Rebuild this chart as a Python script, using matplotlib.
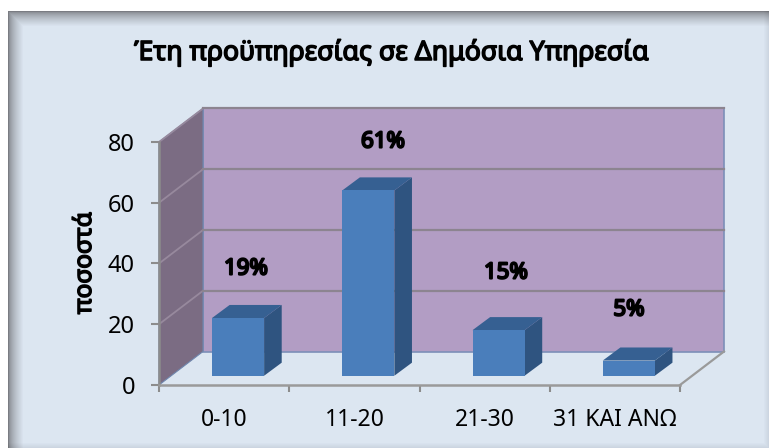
#!/usr/bin/env python3
import numpy as np
import matplotlib
matplotlib.use("Agg")
import matplotlib.pyplot as plt
import matplotlib.patheffects as pe
from matplotlib.patches import Polygon

W, H = 769, 448

categories = ["0-10", "11-20", "21-30", "31 ΚΑΙ ΑΝΩ"]
values = [19, 61, 15, 5]
value_labels = ["19%", "61%", "15%", "5%"]
y_ticks = [0, 20, 40, 60, 80]
title = "Έτη προϋπηρεσίας σε Δημόσια Υπηρεσία"
y_title = "ποσοστά"

plt.rcParams["font.family"] = ["Noto Sans", "DejaVu Sans"]

# the installed weight renders light, so thicken bold text with a stroke
BOLD = [pe.withStroke(linewidth=1.1, foreground="black")]
BOLD_LABEL = [pe.withStroke(linewidth=1.5, foreground="black")]

fig = plt.figure(figsize=(W / 100, H / 100), dpi=100, facecolor="white")

# panel background with a soft inner shadow, strongest along top and left
bg = fig.add_axes([0, 0, 1, 1], zorder=0)
bg.set_axis_off()
L, T, R, B = 8, 11, 769, 448
xx, yy = np.meshgrid(np.arange(L, R), np.arange(T, B))
dist = np.minimum(xx - L, yy - T)
shade = np.clip(dist / 15.0, 0, 1) ** 0.6
base = np.array([0.863, 0.902, 0.949])
edge = np.array([0.48, 0.49, 0.51])
img = edge + (base - edge) * shade[..., None]
faint = np.clip(np.minimum(R - 1 - xx, B - 1 - yy) / 5.0, 0, 1)
img = img * (0.93 + 0.07 * faint[..., None])
bg.imshow(img, extent=(L, R, B, T), interpolation="bilinear", aspect="auto")
bg.set_xlim(0, W)
bg.set_ylim(H, 0)

# front plane of the 3D box: 159..680 px wide, 142..385 px tall
ax = fig.add_axes([159 / W, 1 - 385 / H, (680 - 159) / W, (385 - 142) / H], zorder=1)
ax.patch.set_alpha(0)
ax.set_xlim(0, len(categories))
ax.set_ylim(0, y_ticks[-1])

# depth of the box in axis units
DX = 44 / 130.25
DY = 33.5 / 3.0375


def proj(x, y, d):
    # d runs 0 (front) to 1 (back wall)
    return (x + DX * d, y + DY * d)


def face(pts, color, z, edgecolor="none", lw=0):
    ax.add_patch(Polygon(pts, closed=True, facecolor=color, edgecolor=edgecolor,
                         linewidth=lw, zorder=z, clip_on=False))


n = len(categories)
top = y_ticks[-1]
grid = "#8c8490"

# back wall and side wall
face([proj(0, 0, 1), proj(n, 0, 1), proj(n, top, 1), proj(0, top, 1)], "#b29dc4", 1,
     edgecolor="#7c8fb8", lw=1.2)
face([proj(0, 0, 0), proj(0, 0, 1), proj(0, top, 1), proj(0, top, 0)], "#7b6c83", 1,
     edgecolor="#6f86ad", lw=0.8)

# gridlines wrap around both walls
for t in y_ticks[1:]:
    a, b, c = proj(0, t, 0), proj(0, t, 1), proj(n, t, 1)
    ax.plot([a[0], b[0]], [a[1], b[1]], color="#97899d", lw=1.3, zorder=2, clip_on=False)
    ax.plot([b[0], c[0]], [b[1], c[1]], color=grid, lw=1.6, zorder=2, clip_on=False)

# floor edge on the right
a, b = proj(n, 0, 0), proj(n, 0, 1)
ax.plot([a[0], b[0]], [a[1], b[1]], color="#9a9a9a", lw=1.6, zorder=2, clip_on=False)

# bars stand part of the way back on the floor
bar_w = 0.40
bar_off = 0.407
base_y = 3.05
ox, oy = DX * 0.40, DY * 0.39
for i, v in enumerate(values):
    x0 = i + bar_off
    x1 = x0 + bar_w
    # side, top, front
    face([(x1, base_y), (x1 + ox, base_y + oy), (x1 + ox, v + base_y + oy), (x1, v + base_y)],
         "#2f5480", 4)
    face([(x0, v + base_y), (x1, v + base_y), (x1 + ox, v + base_y + oy), (x0 + ox, v + base_y + oy)],
         "#366092", 4)
    face([(x0, base_y), (x1, base_y), (x1, v + base_y), (x0, v + base_y)], "#4a7ebb", 5)

# value labels float above the bars at hand-placed heights
label_px = [(246, 269), (383, 142), (506, 273), (629, 310)]
for (px, py), s in zip(label_px, value_labels):
    fig.text(px / W, 1 - py / H, s, ha="center", va="center", fontsize=16,
             color="black", zorder=6, path_effects=BOLD_LABEL)

ax.set_xticks(np.arange(n + 1))
ax.set_xticklabels([])
ax.set_yticks(y_ticks)
ax.tick_params(axis="x", length=5.2, width=1.5, color="#8c8c8c", direction="out")
ax.tick_params(axis="y", length=5.8, width=1.5, color="#8c8c8c", direction="out",
               labelsize=17, pad=11.5)
for s in ["top", "right"]:
    ax.spines[s].set_visible(False)
ax.spines["bottom"].set_color("#9a9a9a")
ax.spines["bottom"].set_linewidth(1.8)
ax.spines["left"].set_color("#8c8c8c")
ax.spines["left"].set_linewidth(1.8)
ax.spines["bottom"].set_zorder(3)

for i, c in enumerate(categories):
    ax.annotate(c, (i + 0.5, 0), xytext=(0, -35), textcoords="offset pixels",
                ha="center", va="center", fontsize=16.5, annotation_clip=False)

fig.text(391 / W, 1 - 53 / H, title, ha="center", va="center", fontsize=19.2,
         zorder=6, path_effects=BOLD)
fig.text(85 / W, 1 - 263 / H, y_title, ha="center", va="center", rotation=90,
         fontsize=17.5, zorder=6, path_effects=BOLD)

fig.savefig("out.png", dpi=100, facecolor="white")
